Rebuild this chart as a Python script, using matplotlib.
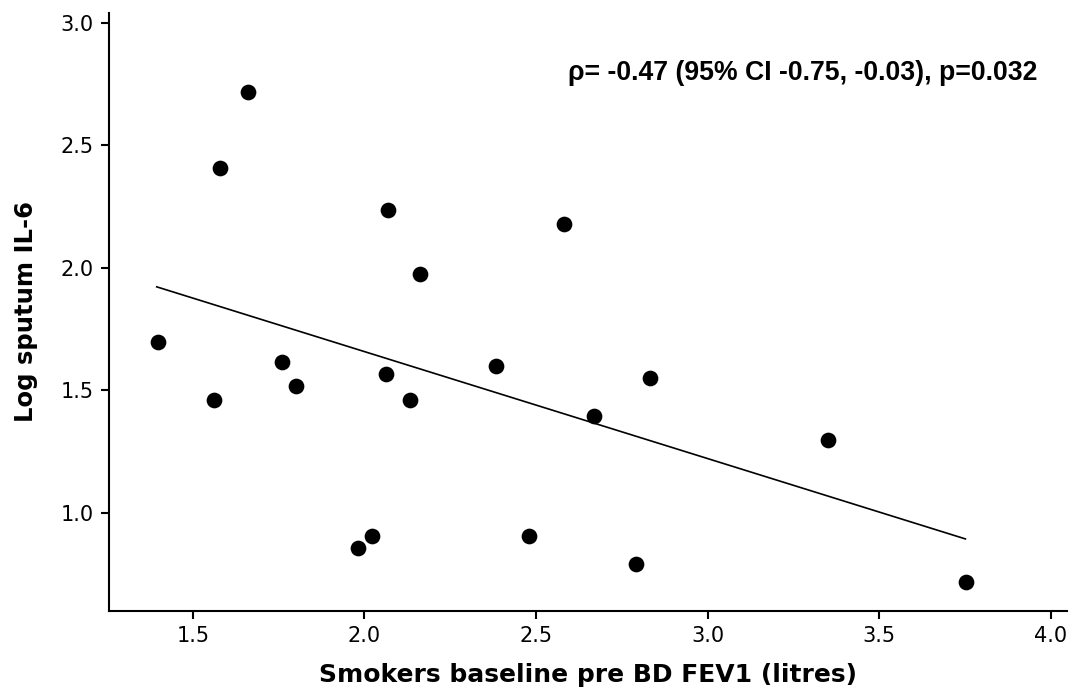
import matplotlib
matplotlib.use("Agg")
import matplotlib.pyplot as plt
from matplotlib import font_manager as fm

# Data
fev1 = [1.398, 1.562, 1.580, 1.660, 1.759, 1.801, 1.980, 2.022, 2.062, 2.069,
        2.133, 2.162, 2.383, 2.481, 2.581, 2.669, 2.790, 2.831, 3.351, 3.752]
il6 = [1.698, 1.461, 2.408, 2.718, 1.616, 1.518, 0.857, 0.905, 1.566, 2.237,
       1.461, 1.976, 1.600, 0.904, 2.180, 1.396, 0.791, 1.551, 1.298, 0.717]
fit_x = [1.395, 3.751]
fit_y = [1.922, 0.893]
x_ticks = [1.5, 2.0, 2.5, 3.0, 3.5, 4.0]
y_ticks = [1.0, 1.5, 2.0, 2.5, 3.0]
annotation = "\u03c1= -0.47 (95% CI -0.75, -0.03), p=0.032"

# pick a regular-width Arial-like bold font file
ann_font = None
for f in fm.fontManager.ttflist:
    base = f.fname.split("/")[-1]
    if base.startswith("LiberationSans-Bold."):
        ann_font = fm.FontProperties(fname=f.fname, size=19.2)
        break
if ann_font is None:
    ann_font = fm.FontProperties(family="DejaVu Sans", weight="bold", size=16)

fig = plt.figure(figsize=(10.79, 6.93), dpi=100)
ax = fig.add_axes([109/1079, 1-610.7/693, (1067-109)/1079, (610.7-12.7)/693])

ax.scatter(fev1, il6, s=128, color="black", zorder=3, linewidths=0)
ax.plot(fit_x, fit_y, color="black", lw=1.2)

ax.set_xlim(1.256, 4.047)
ax.set_ylim(0.6, 3.041)
ax.set_xticks(x_ticks)
ax.set_yticks(y_ticks)
ax.set_xticklabels([f"{v:.1f}" for v in x_ticks])
ax.set_yticklabels([f"{v:.1f}" for v in y_ticks])

for s in ["top", "right"]:
    ax.spines[s].set_visible(False)
for s in ["left", "bottom"]:
    ax.spines[s].set_linewidth(1.5)

ax.tick_params(axis="both", direction="out", length=6, width=1.5,
               labelsize=15, pad=5, colors="black")

ax.set_xlabel("Smokers baseline pre BD FEV1 (litres)", fontsize=18,
              fontweight="bold", labelpad=12)
ax.set_ylabel("Log sputum IL-6", fontsize=17.5, fontweight="bold", labelpad=16)

fig.text(1038/1079, 1-73/693, annotation, ha="right", va="center",
         fontproperties=ann_font)

fig.savefig("out.png", dpi=100)
